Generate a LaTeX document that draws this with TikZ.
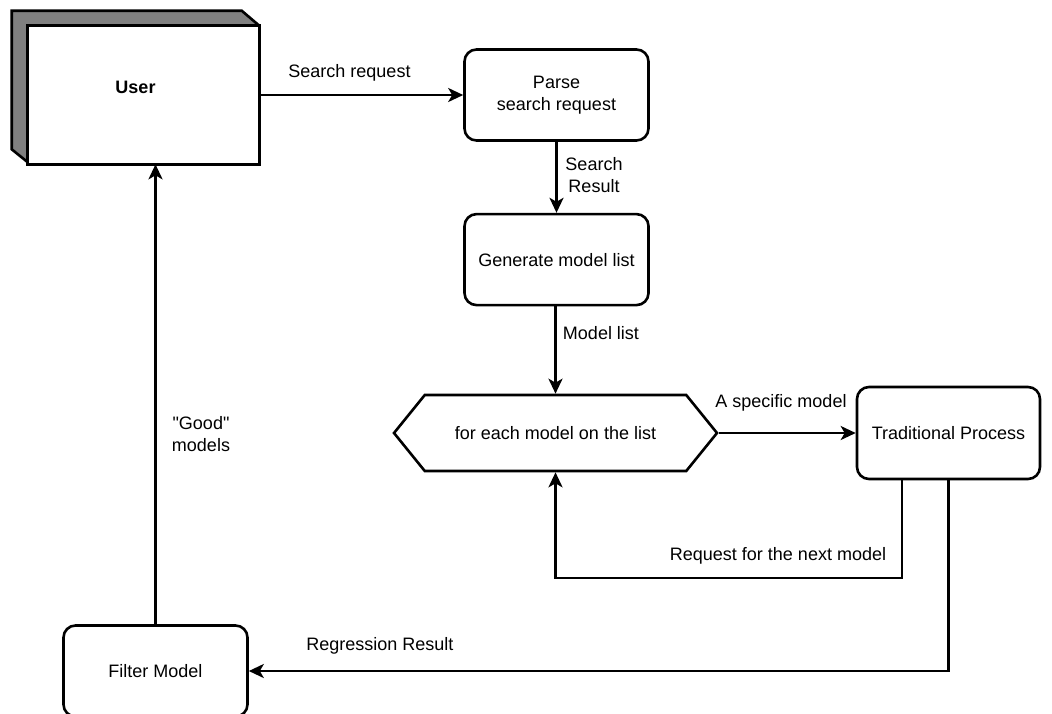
\documentclass[tikz,border=0pt]{standalone}
\usepackage{fontspec}
\setmainfont{Liberation Sans}[Ligatures=TeXOff]
\usetikzlibrary{arrows.meta,positioning,shapes.symbols,calc}

\tikzset{
  flowfont/.style={font=\fontsize{18}{22.5}\selectfont},
  box/.style={draw, fill=white, rounded corners=12pt, line width=2.6pt,
    minimum width=184pt, minimum height=91pt, align=center, flowfont},
  lbl/.style={align=center, inner sep=0pt, flowfont},
}

\begin{document}
\begin{tikzpicture}[x=1pt, y=-1pt, line width=2.6pt,
  >={Stealth[length=15pt,width=14pt,inset=4pt]}]
\useasboundingbox (0,0) rectangle (1052,713);

% the user block with its shaded depth
\node[minimum width=245pt, minimum height=151pt] (user) at (135.5,87.5) {};
\filldraw[fill=gray] (user.north west) -- ++(230,0) -- ($(user.north east)+(0,15)$)
  -- (user.south east) -- ++(-229,0) -- ($(user.south west)+(0,-15)$) -- cycle;
\draw[fill=white] ($(user.north west)+(16,15)$) rectangle (user.south east);
\node[flowfont] at (user) {\bfseries User};

\node[box] (parse) at (556.5,95) {Parse\\search request};
\node[box, below=71pt of parse] (gen) {Generate model list};
\node[signal, signal to=east and west, signal pointer angle=102, draw, fill=white,
  minimum width=323pt, minimum height=76pt, flowfont] (loop) at (555.5,433) {for each model on the list};
\node[box, minimum width=183pt, minimum height=92pt] (trad) at (948.5,433) {Traditional Process};
\node[box] (filter) at (155.5,671) {Filter Model};

\coordinate (back) at (902,578);

\draw[->] (user.east |- parse.west) -- (parse.west);
\draw[->] (parse.south) -- (parse.south |- gen.north);
\draw[->] (gen.south) -- (gen.south -| loop.north) -- (loop.north);
\draw[->] (loop.east) -- (trad.west);
\draw[->] (trad.south -| back) -- (back) -| (loop.south);
\draw[->] (trad.south) |- (filter.east);
\draw[->] (filter.north) -- (filter.north |- user.south);

% connector labels
\node[lbl] (l1) at (349.5,73) {Search request};
\node[lbl] (l2) at (594,175) {Search\\Result};
\node[lbl] (l3) at (601,333) {Model list};
\node[lbl] (l4) at (781,403) {A specific model};
\node[lbl] (l5) at (778,556) {Request for the next model};
\node[lbl] (l6) at (380,646) {Regression Result};
\node[lbl] (l7) at (201,434) {"Good"\\models};
\end{tikzpicture}
\end{document}
